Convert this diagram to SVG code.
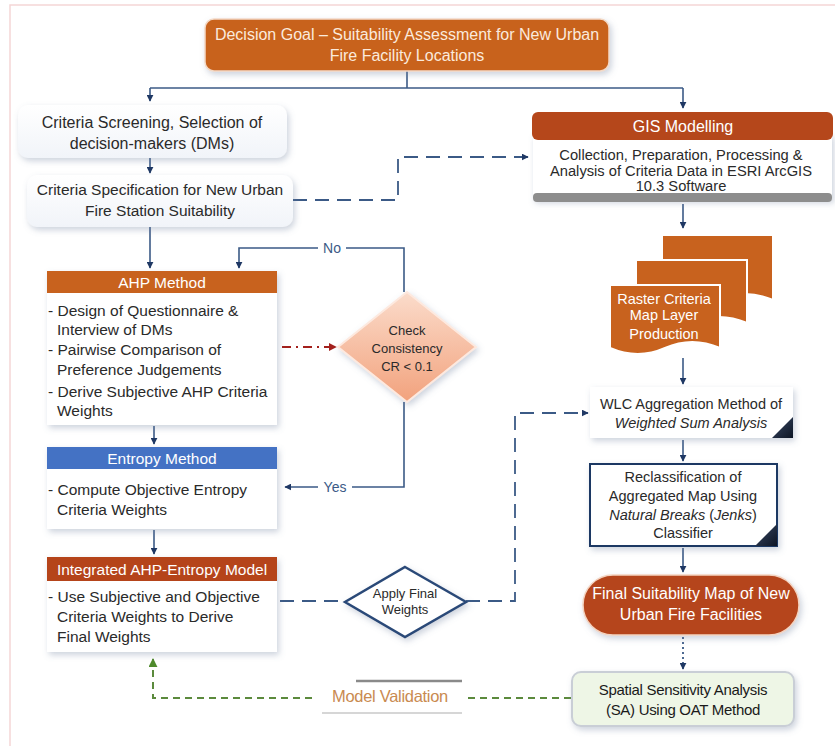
<svg xmlns="http://www.w3.org/2000/svg" width="835" height="746" viewBox="0 0 835 746">
<defs>
<style>
text{font-family:"Liberation Sans",Arial,sans-serif;}
.c{text-anchor:middle;}
.dk{fill:#2a2a2a;font-size:15px;}
.wh{fill:#ffffff;font-size:15px;}
.conn{fill:none;stroke:#3b5a86;stroke-width:1.6;}
.dash{fill:none;stroke:#3b5a86;stroke-width:1.8;stroke-dasharray:14 8;}
.card{fill:#ffffff;filter:url(#sh);}
</style>
<filter id="sh" x="-10%" y="-10%" width="125%" height="130%">
<feDropShadow dx="2" dy="3" stdDeviation="3" flood-color="#6d7f9c" flood-opacity="0.35"/>
</filter>
<linearGradient id="gDia" x1="0" y1="0" x2="0" y2="1">
<stop offset="0" stop-color="#fbdccb"/><stop offset="1" stop-color="#f2a27d"/>
</linearGradient>
<linearGradient id="gCard" x1="0" y1="0" x2="0" y2="1">
<stop offset="0" stop-color="#ffffff"/><stop offset="1" stop-color="#f1f4f9"/>
</linearGradient>
<linearGradient id="gTri" x1="0" y1="0" x2="1" y2="1">
<stop offset="0" stop-color="#3a4a66"/><stop offset="1" stop-color="#0d1524"/>
</linearGradient>
<marker id="ar" viewBox="0 0 10 10" refX="9" refY="5" markerWidth="7" markerHeight="7" orient="auto" markerUnits="userSpaceOnUse">
<path d="M0,0 L10,5 L0,10 z" fill="#1f3864"/>
</marker>
<marker id="arR" viewBox="0 0 10 10" refX="9" refY="5" markerWidth="8" markerHeight="8" orient="auto" markerUnits="userSpaceOnUse">
<path d="M0,0 L10,5 L0,10 z" fill="#a3201c"/>
</marker>
<marker id="arG" viewBox="0 0 10 10" refX="9" refY="5" markerWidth="9" markerHeight="9" orient="auto" markerUnits="userSpaceOnUse">
<path d="M0,0 L10,5 L0,10 z" fill="#4f8a2c"/>
</marker>
</defs>
<rect width="835" height="746" fill="#ffffff"/>
<rect x="10" y="5" width="840" height="760" fill="none" stroke="#f5d6d6" stroke-width="1.5"/>

<g id="connectors">
<path class="conn" d="M407,71 V88"/>
<path class="conn" d="M150,88 H683"/>
<path class="conn" d="M150,88 V101" marker-end="url(#ar)"/>
<path class="conn" d="M683,88 V108" marker-end="url(#ar)"/>
<path class="conn" d="M150,158 V173" marker-end="url(#ar)"/>
<path class="conn" d="M150,227 V268" marker-end="url(#ar)"/>
<path class="conn" d="M404,292 V248 H239 V268" marker-end="url(#ar)"/>
<path class="conn" d="M404,402 V487 H285" marker-end="url(#ar)"/>
<path class="conn" d="M154,426 V444" marker-end="url(#ar)"/>
<path class="conn" d="M154,530 V554" marker-end="url(#ar)"/>
<path fill="none" stroke="#a3201c" stroke-width="1.8" stroke-dasharray="9 5 2 5" d="M282,347 H336" marker-end="url(#arR)"/>
<path class="dash" d="M293,200 H398 V157 H528" marker-end="url(#ar)"/>
<path class="dash" d="M280,601 H345"/>
<path class="dash" d="M466,601 H515 V413 H588" marker-end="url(#ar)"/>
<path class="conn" d="M683,204 V228" marker-end="url(#ar)"/>
<path class="conn" d="M683,358 V384" marker-end="url(#ar)"/>
<path class="conn" d="M683,440 V461" marker-end="url(#ar)"/>
<path class="conn" d="M683,548 V572" marker-end="url(#ar)"/>
<path fill="none" stroke="#3b5a86" stroke-width="1.8" stroke-dasharray="2 3" d="M683,637 V669" marker-end="url(#ar)"/>
<path fill="none" stroke="#5b8a3c" stroke-width="2" stroke-dasharray="7 5" d="M571,698 H468"/>
<path fill="none" stroke="#5b8a3c" stroke-width="2" stroke-dasharray="7 5" d="M312,698 H153 V659" marker-end="url(#arG)"/>
<rect x="318" y="242" width="28" height="13" fill="#ffffff"/>
<text x="332" y="253" class="c" style="font-size:14px;fill:#3b5a86">No</text>
<rect x="318" y="481" width="34" height="13" fill="#ffffff"/>
<text x="335" y="492" class="c" style="font-size:14px;fill:#3b5a86">Yes</text>
</g>

<g id="goal">
<rect x="205" y="19" width="404" height="52" rx="9" fill="#c8621e" stroke="#f3d9c6" stroke-width="1.5" filter="url(#sh)"/>
<text x="407" y="40" class="c" style="font-size:16px;fill:#fbeadc">Decision Goal – Suitability Assessment for New Urban</text>
<text x="407" y="61" class="c" style="font-size:16px;fill:#fbeadc">Fire Facility Locations</text>
</g>

<g id="screening">
<rect x="18" y="105" width="269" height="53" rx="10" fill="url(#gCard)" filter="url(#sh)"/>
<text x="152" y="128" class="c dk" style="font-size:16px">Criteria Screening, Selection of</text>
<text x="152" y="149" class="c dk" style="font-size:16px">decision-makers (DMs)</text>
</g>

<g id="specification">
<rect x="27" y="175" width="266" height="52" rx="10" fill="url(#gCard)" filter="url(#sh)"/>
<text x="160" y="195" class="c dk" style="font-size:15.5px">Criteria Specification for New Urban</text>
<text x="160" y="216" class="c dk" style="font-size:15.5px">Fire Station Suitability</text>
</g>

<g id="gis">
<rect x="533" y="134" width="299" height="66" class="card"/>
<rect x="532" y="112" width="301" height="28" rx="6" fill="#b5471b"/>
<rect x="533" y="193" width="299" height="9" rx="4" fill="#8d8d8d"/>
<text x="683" y="132" class="c wh" style="font-size:16px">GIS Modelling</text>
<text x="681" y="160" class="c dk" style="font-size:14.7px">Collection, Preparation, Processing &amp;</text>
<text x="681" y="176" class="c dk" style="font-size:14.7px">Analysis of Criteria Data in ESRI ArcGIS</text>
<text x="681" y="191" class="c dk" style="font-size:14.7px">10.3 Software</text>
</g>

<g id="raster">
<path d="M662,235 H773 V300 Q745,288 717,300 T662,300 Z" fill="#c8621e" stroke="#ffffff" stroke-width="2"/>
<path d="M636,260 H747 V323 Q719,311 691,323 T636,323 Z" fill="#c8621e" stroke="#ffffff" stroke-width="2"/>
<path d="M610,285 H720 V348 Q692,336 665,348 T610,348 Z" fill="#c8621e" stroke="#ffffff" stroke-width="2"/>
<text x="664" y="304" class="c wh" style="font-size:14.5px">Raster Criteria</text>
<text x="664" y="320" class="c wh" style="font-size:14.5px">Map Layer</text>
<text x="664" y="339" class="c wh" style="font-size:14.5px">Production</text>
</g>

<g id="wlc">
<rect x="590" y="387" width="203" height="51" class="card"/>
<polygon points="772,438 793,438 793,417" fill="url(#gTri)"/>
<text x="691" y="409" class="c dk" style="font-size:14.5px">WLC Aggregation Method of</text>
<text x="691" y="428" class="c dk" style="font-size:14.5px;font-style:italic">Weighted Sum Analysis</text>
</g>

<g id="reclass">
<rect x="590" y="464" width="187" height="82" fill="#ffffff" stroke="#1f3864" stroke-width="2" filter="url(#sh)"/>
<polygon points="755,546 777,546 777,524" fill="url(#gTri)"/>
<text x="683" y="482" class="c dk" style="font-size:14.5px">Reclassification of</text>
<text x="683" y="501" class="c dk" style="font-size:14.5px">Aggregated Map Using</text>
<text x="683" y="520" class="c dk" style="font-size:14.5px"><tspan font-style="italic">Natural Breaks</tspan> (<tspan font-style="italic">Jenks</tspan>)</text>
<text x="683" y="538" class="c dk" style="font-size:14.5px">Classifier</text>
</g>

<g id="final">
<rect x="583" y="575" width="216" height="60" rx="30" fill="#b5441a" stroke="#f3d3c0" stroke-width="1.5" filter="url(#sh)"/>
<text x="691" y="599" class="c wh" style="font-size:16px">Final Suitability Map of New</text>
<text x="691" y="620" class="c wh" style="font-size:16px">Urban Fire Facilities</text>
</g>

<g id="sensitivity">
<rect x="572" y="672" width="222" height="54" rx="9" fill="#eef6e6" stroke="#c9ced6" stroke-width="2" filter="url(#sh)"/>
<text x="683" y="695" class="c" style="font-size:15px;fill:#1a1a1a;letter-spacing:-0.3px">Spatial Sensitivity Analysis</text>
<text x="683" y="715" class="c" style="font-size:15px;fill:#1a1a1a;letter-spacing:-0.3px">(SA) Using OAT Method</text>
</g>

<g id="validation">
<line x1="356" y1="681" x2="462" y2="681" stroke="#8a8a8a" stroke-width="2.5"/>
<line x1="322" y1="713" x2="462" y2="713" stroke="#d6d6d6" stroke-width="2"/>
<text x="390" y="702" class="c" style="font-size:16.5px;fill:#c98a50;letter-spacing:-0.3px">Model Validation</text>
</g>

<g id="ahp">
<rect x="47" y="271" width="230" height="154" class="card"/>
<rect x="47" y="271" width="230" height="22" fill="#c8621e"/>
<text x="162" y="288" class="c wh" style="font-size:15.5px">AHP Method</text>
<text class="dk" style="font-size:15.5px">
<tspan x="48" y="316">- Design of Questionnaire &amp;</tspan>
<tspan x="57" y="335">Interview of DMs</tspan>
<tspan x="48" y="355">- Pairwise Comparison of</tspan>
<tspan x="57" y="375">Preference Judgements</tspan>
<tspan x="48" y="397">- Derive Subjective AHP Criteria</tspan>
<tspan x="57" y="416">Weights</tspan>
</text>
</g>

<g id="consistency">
<polygon points="407,292 476,347 407,402 338,347" fill="url(#gDia)" stroke="#fde9df" stroke-width="2" filter="url(#sh)"/>
<text x="407" y="335" class="c" style="font-size:13px;fill:#2a2a2a">Check</text>
<text x="407" y="353" class="c" style="font-size:13px;fill:#2a2a2a">Consistency</text>
<text x="407" y="371" class="c" style="font-size:13px;fill:#2a2a2a">CR &lt; 0.1</text>
</g>

<g id="entropy">
<rect x="47" y="447" width="230" height="82" class="card"/>
<rect x="47" y="447" width="230" height="22" fill="#4472c4"/>
<text x="162" y="464" class="c wh" style="font-size:15.5px">Entropy Method</text>
<text class="dk" style="font-size:15.5px">
<tspan x="48" y="495">- Compute Objective Entropy</tspan>
<tspan x="57" y="515">Criteria Weights</tspan>
</text>
</g>

<g id="integrated">
<rect x="47" y="557" width="230" height="95" class="card"/>
<rect x="47" y="557" width="230" height="24" fill="#b5441a"/>
<text x="162" y="575" class="c wh" style="font-size:15.5px">Integrated AHP-Entropy Model</text>
<text class="dk" style="font-size:15.5px">
<tspan x="48" y="602">- Use Subjective and Objective</tspan>
<tspan x="57" y="622">Criteria Weights to Derive</tspan>
<tspan x="57" y="642">Final Weights</tspan>
</text>
</g>

<g id="apply">
<polygon points="405,567 466,602 405,637 345,602" fill="#ffffff" stroke="#2b4a78" stroke-width="2.5" filter="url(#sh)"/>
<text x="405" y="598" class="c" style="font-size:13px;fill:#2a2a2a">Apply Final</text>
<text x="405" y="614" class="c" style="font-size:13px;fill:#2a2a2a">Weights</text>
</g>
</svg>
